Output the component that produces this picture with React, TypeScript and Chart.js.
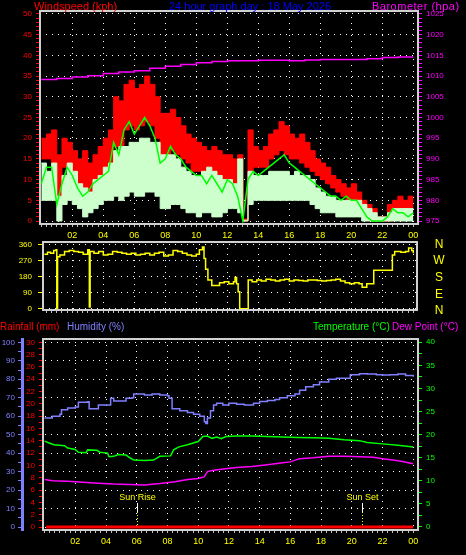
import React, { useEffect, useRef } from "react";
import { Chart, registerables } from "chart.js";

Chart.register(...registerables);

const FONT = "'Liberation Sans', Arial, Helvetica, sans-serif";

// ---------- text ----------
const windTitle = "Windspeed (kph)";
const mainTitle = "24 hour graph day : 18 May 2026";
const baroTitle = "Barometer (hpa)";
const rainTitle = "Rainfall (mm)";
const humTitle = "Humidity (%)";
const tempTitle = "Temperature (°C)";
const dewTitle = "Dew Point (°C)";
const hourLabels = ["02", "04", "06", "08", "10", "12", "14", "16", "18", "20", "22", "00"];
const compassDegrees = [360, 270, 180, 90, 0];
const compassLetters = ["N", "W", "S", "E", "N"];
const sunLabels = ["Sun Rise", "Sun Set"];
const sunHours = [6.04, 20.64];

// ---------- wind (samples every 20 minutes from 00:00) ----------
const windStepMinutes = 20;
const gustHigh = [20, 21, 22, 16, 20, 19, 17, 15, 17, 14, 16, 18, 20, 22, 30, 29, 33, 34, 32, 33, 35, 33, 30, 26, 26, 27, 25, 23, 21, 20, 19, 18, 17, 18, 17, 16, 16, 15, 16, 0.5, 22, 18, 17, 18, 21, 22, 24, 23, 21, 20, 21, 19, 17, 15, 14, 13, 11, 10, 9, 8, 9, 7, 5, 4, 3, 1, 1, 4, 5, 6, 5, 6, 6];
const gustLow = [15, 15, 14, 5, 13, 13, 11, 8, 6, 5, 8, 9, 12, 14, 18, 18, 22, 23, 22, 23, 24, 23, 20, 14, 14, 17, 16, 15, 14, 12, 12, 11, 10, 10, 9, 9, 10, 9, 10, 0, 12, 13, 13, 13, 15, 16, 17, 16, 15, 15, 14, 13, 12, 11, 10, 9, 8, 7, 6, 5, 5, 4, 3, 2, 0, 0, 0, 0, 2, 3, 2, 3, 3];
const windHigh = [14, 12, 14, 6, 11, 14, 12, 9, 8, 7, 10, 11, 13, 14, 17, 18, 18, 19, 19, 20, 20, 19, 19, 16, 16, 16, 15, 13, 12, 11, 11, 12, 13, 12, 11, 10, 10, 9, 15, 0.2, 12, 11, 11, 11, 12, 12, 12, 12, 11, 12, 11, 11, 10, 8, 7, 6, 6, 5, 5, 5, 5, 5, 4, 3, 2, 1, 1, 2, 3, 3, 3, 3, 3];
const windLow = [5, 5, 5, 0, 4, 5, 4, 3, 1, 2, 3, 4, 5, 5, 6, 5, 6, 7, 6, 6, 7, 7, 6, 3, 3, 4, 4, 3, 2, 2, 1, 2, 2, 1, 1, 2, 3, 3, 2, 0, 4, 5, 5, 5, 5, 5, 5, 5, 5, 5, 5, 5, 4, 3, 2, 2, 2, 1, 1, 1, 1, 1, 0, 0, 0, 0, 0, 0, 0, 0, 0, 0, 0];
const windAvg = [9, 13, 13, 4, 9, 13, 11, 8, 6, 7, 9, 10, 11, 12, 19, 16, 22, 24, 21, 23, 25, 23, 20, 14, 15, 18, 16, 15, 13, 12, 11, 11, 9, 11, 9, 7, 10, 9, 6, 0, 10, 12, 11, 12, 13, 14, 15, 16, 14, 13, 12, 11, 10, 9, 8, 7, 6, 6, 5, 6, 5, 5, 3, 1, 0, 0, 0, 1, 3, 2, 2, 1, 2];

// ---------- barometer ----------
const baroHours = [0, 1, 2, 3, 4, 5, 6, 7, 8, 9, 10, 11, 12, 13, 14, 15, 16, 17, 18, 19, 20, 21, 22, 23, 24];
const baroValues = [1009.2, 1009.4, 1009.8, 1010.1, 1010.6, 1011.0, 1011.3, 1011.9, 1012.4, 1012.8, 1013.2, 1013.5, 1013.7, 1013.7, 1013.8, 1013.8, 1013.7, 1013.9, 1014.0, 1014.0, 1014.0, 1014.2, 1014.5, 1014.6, 1014.6];

// ---------- wind direction ----------
const dirHours = [0.2, 0.4, 0.6, 0.8, 0.95, 1.0, 1.05, 1.2, 1.5, 1.8, 2.1, 2.4, 2.7, 3.0, 3.1, 3.15, 3.4, 3.7, 4.0, 4.3, 4.6, 4.9, 5.2, 5.5, 5.8, 6.1, 6.4, 6.7, 7.0, 7.3, 7.6, 7.9, 8.2, 8.5, 8.8, 9.1, 9.4, 9.7, 10.0, 10.2, 10.4, 10.5, 10.6, 10.75, 11.0, 11.3, 11.5, 11.8, 12.1, 12.4, 12.5, 12.6, 12.7, 12.8, 13.3, 13.35, 13.6, 13.9, 14.2, 14.5, 14.8, 15.1, 15.4, 15.7, 16.0, 16.3, 16.6, 16.9, 17.2, 17.5, 17.8, 18.1, 18.4, 18.7, 19.0, 19.3, 19.6, 19.9, 20.2, 20.5, 20.7, 20.9, 21.0, 21.4, 21.45, 22.6, 22.65, 22.8, 23.2, 23.5, 23.7, 23.9, 24.0];
const dirDegrees = [305, 315, 310, 325, 330, 0, 290, 300, 320, 325, 320, 315, 305, 330, 10, 320, 310, 320, 300, 305, 320, 315, 310, 305, 310, 300, 305, 310, 300, 310, 315, 295, 300, 325, 320, 310, 300, 295, 305, 330, 345, 280, 220, 160, 130, 130, 145, 150, 140, 150, 175, 140, 95, 0, 0, 160, 150, 160, 155, 165, 160, 155, 160, 165, 155, 160, 158, 155, 160, 160, 158, 155, 158, 160, 165, 155, 145, 140, 145, 140, 120, 120, 140, 140, 215, 215, 300, 320, 315, 320, 340, 325, 310];

// ---------- humidity / temperature / dew point / rain ----------
const humHours = [0, 0.5, 1.0, 1.1, 1.5, 2.0, 2.2, 2.8, 2.9, 3.4, 3.5, 4.2, 4.3, 4.5, 5.1, 5.3, 5.7, 5.8, 6.5, 7.0, 7.5, 8.0, 8.1, 8.3, 8.8, 9.3, 9.7, 10.1, 10.4, 10.5, 10.6, 10.8, 11.0, 11.2, 11.6, 12.0, 12.5, 13.0, 13.6, 14.0, 14.5, 15.0, 15.3, 15.8, 16.3, 16.6, 17.0, 17.5, 17.9, 18.5, 19.0, 19.5, 19.9, 20.5, 21.0, 21.6, 22.0, 22.5, 23.0, 23.5, 24.0];
const humValues = [59, 60, 61, 63.5, 64.5, 65, 67.5, 67.8, 64, 64, 66, 66, 69.7, 68.2, 68.2, 69.7, 70, 72, 71.5, 72, 71.5, 71, 69.7, 64, 63, 62, 61, 60, 57, 56, 59, 63, 66, 67, 66, 67, 66.5, 66, 67, 68, 68.5, 69, 70, 71, 72, 74, 76, 77, 78.5, 80, 80.5, 80.5, 82.5, 83, 82.8, 82.5, 82.3, 82.5, 82.8, 82, 81.4];
const tempHours = [0, 0.3, 0.6, 1.3, 1.5, 2.0, 2.2, 2.7, 2.8, 3.4, 3.6, 4.1, 4.2, 4.5, 4.8, 5.3, 5.5, 5.8, 6.5, 7.1, 7.5, 8.2, 8.4, 8.7, 9.3, 10.0, 10.3, 10.6, 10.9, 11.2, 11.5, 11.8, 12.5, 13.5, 14.5, 15.5, 16.5, 17.5, 18.5, 19.5, 20.5, 21.0, 22.0, 23.0, 24.0];
const tempValues = [18.6, 18.2, 17.8, 17.6, 17.1, 16.8, 16.2, 16.1, 16.7, 16.6, 16.2, 16.0, 15.2, 15.3, 15.7, 15.6, 15.1, 14.5, 14.4, 14.5, 15.3, 15.4, 16.7, 17.3, 17.8, 18.5, 19.6, 19.7, 19.2, 19.5, 19.1, 19.6, 19.7, 19.7, 19.6, 19.5, 19.4, 19.3, 19.2, 18.9, 18.7, 18.3, 18.0, 17.7, 17.3];
const dewHours = [0, 0.5, 1.5, 2.5, 3.5, 4.5, 5.5, 6.5, 7.5, 8.5, 9.3, 10.0, 10.4, 10.6, 11.0, 11.5, 12.5, 13.5, 14.5, 15.5, 16.0, 16.6, 17.5, 18.5, 19.5, 20.5, 21.4, 22.0, 22.7, 23.3, 24.0];
const dewValues = [10.3, 10.0, 9.9, 9.7, 9.5, 9.3, 9.2, 9.1, 9.4, 9.8, 10.3, 10.5, 10.9, 12.0, 12.3, 12.5, 12.9, 13.1, 13.5, 13.9, 14.1, 14.8, 15.0, 15.3, 15.3, 15.2, 15.1, 14.8, 14.5, 14.2, 13.7];
const rainHours = [0.1, 24];
const rainValues = [0, 0];

// ---------- colours ----------
const RED = "#ff0000";
const LIGHTGREEN = "#ccffcc";
const GREEN = "#00ff00";
const MAGENTA = "#ff00ff";
const YELLOW = "#ffff00";
const HUMBLUE = "#8080ff";
const FRAME = "#d0d0d0";
const CLEAR = "rgba(0,0,0,0)";

function pts(xs: number[], ys: number[]) {
  return xs.map((x, i) => ({ x, y: ys[i] }));
}
function windPts(ys: number[]) {
  return ys.map((y, i) => ({ x: (i * windStepMinutes) / 60, y }));
}
function range(a: number, b: number, step: number) {
  const out: { value: number }[] = [];
  for (let v = a; v <= b + 1e-9; v += step) out.push({ value: Math.round(v * 1000) / 1000 });
  return out;
}

function timeAxis(min: number, max: number, height: number, showLabels: boolean) {
  return {
    type: "linear",
    min,
    max,
    afterBuildTicks: (s: any) => {
      const t: { value: number }[] = [];
      for (let k = 0; k <= 73; k++) {
        const v = k / 3;
        if (v >= min && v <= max) t.push({ value: v });
      }
      s.ticks = t;
    },
    afterFit: (s: any) => {
      s.height = height;
    },
    ticks: {
      display: showLabels,
      autoSkip: false,
      maxRotation: 0,
      color: YELLOW,
      padding: 3,
      font: { family: FONT, size: 9 },
      callback: (v: number) => {
        const k = Math.round(v * 3);
        return k % 6 === 0 && k > 0 && k <= 72 ? hourLabels[k / 6 - 1] : "";
      },
    },
    grid: {
      color: (c: any) => {
        const v = c.tick ? c.tick.value : -1;
        const k = Math.round(v * 3);
        return k % 6 === 0 && k > 0 ? "#ffffff" : CLEAR;
      },
      tickColor: "#c0c0c0",
      tickLength: 3,
      lineWidth: 1,
    },
    border: { display: false, dash: [1, 5] },
  };
}

function valueAxis(o: {
  position: string;
  min: number;
  max: number;
  from: number;
  to: number;
  step: number;
  labelEvery: number;
  gridEvery: number | null;
  color: string;
  width: number;
  tickLength: number;
  padding: number;
  fontSize?: number;
  weight?: number;
  border?: any;
}) {
  const isMult = (v: number, m: number) => Math.abs(v / m - Math.round(v / m)) < 1e-6;
  return {
    type: "linear",
    position: o.position,
    min: o.min,
    max: o.max,
    weight: o.weight || 0,
    afterBuildTicks: (s: any) => {
      s.ticks = range(o.from, o.to, o.step);
    },
    afterFit: (s: any) => {
      s.width = o.width;
    },
    ticks: {
      autoSkip: false,
      color: o.color,
      padding: o.padding,
      font: { family: FONT, size: o.fontSize || 8 },
      callback: (v: number) => (isMult(v, o.labelEvery) ? String(v) : ""),
    },
    grid: {
      drawOnChartArea: o.gridEvery !== null,
      drawTicks: o.tickLength > 0,
      color: (c: any) =>
        o.gridEvery !== null && c.tick && isMult(c.tick.value, o.gridEvery as number) ? "#ffffff" : CLEAR,
      tickColor: o.color,
      tickLength: o.tickLength,
      lineWidth: 1,
    },
    border: o.border || { display: false, dash: [1, 5] },
  };
}

const framePlugin = {
  id: "frame",
  afterDraw(chart: any) {
    const { ctx, chartArea } = chart;
    const { left, top, right, bottom } = chartArea;
    ctx.save();
    ctx.strokeStyle = FRAME;
    ctx.lineWidth = 2;
    ctx.strokeRect(left, top, right - left, bottom - top);
    ctx.restore();
  },
};

const compassPlugin = {
  id: "compass",
  afterDraw(chart: any) {
    const { ctx, chartArea } = chart;
    const y = chart.scales.y;
    ctx.save();
    ctx.fillStyle = YELLOW;
    ctx.font = `12px ${FONT}`;
    ctx.textAlign = "center";
    ctx.textBaseline = "middle";
    compassDegrees.forEach((d, i) => {
      ctx.fillText(compassLetters[i], chartArea.right + 22, y.getPixelForValue(d) + i * 0.6);
    });
    ctx.restore();
  },
};

const sunPlugin = {
  id: "sun",
  afterDatasetsDraw(chart: any) {
    const { ctx } = chart;
    const x = chart.scales.x;
    const y = chart.scales.yt;
    const yBottom = y.getPixelForValue(0);
    sunHours.forEach((h, i) => {
      const px = Math.round(x.getPixelForValue(h)) + 0.5;
      ctx.save();
      ctx.fillStyle = YELLOW;
      ctx.font = `9px ${FONT}`;
      ctx.textAlign = "center";
      ctx.textBaseline = "middle";
      ctx.fillText(sunLabels[i], px, yBottom - 29);
      ctx.strokeStyle = "#ffffff";
      ctx.lineWidth = 1;
      ctx.beginPath();
      ctx.moveTo(px, yBottom - 24);
      ctx.lineTo(px, yBottom - 15);
      ctx.stroke();
      ctx.strokeStyle = YELLOW;
      ctx.setLineDash([1, 2]);
      ctx.beginPath();
      ctx.moveTo(px, yBottom - 15);
      ctx.lineTo(px, yBottom);
      ctx.stroke();
      ctx.restore();
    });
  },
};

const common = {
  responsive: false,
  animation: false,
  events: [],
  plugins: { legend: { display: false }, tooltip: { enabled: false }, title: { display: false } },
  elements: { point: { radius: 0 }, line: { tension: 0 } },
};

function windConfig(): any {
  return {
    type: "line",
    data: {
      datasets: [
        { data: windPts(windAvg), borderColor: GREEN, borderWidth: 1.5, fill: false, yAxisID: "y" },
        { data: windPts(windLow), borderColor: LIGHTGREEN, borderWidth: 1, stepped: true, fill: false, yAxisID: "y" },
        { data: windPts(windHigh), borderColor: LIGHTGREEN, backgroundColor: LIGHTGREEN, borderWidth: 1, stepped: true, fill: 1, yAxisID: "y" },
        { data: windPts(gustLow), borderColor: RED, borderWidth: 1, stepped: true, fill: false, yAxisID: "y" },
        { data: windPts(gustHigh), borderColor: RED, backgroundColor: RED, borderWidth: 1, stepped: true, fill: 3, yAxisID: "y" },
        { data: pts(baroHours, baroValues), borderColor: MAGENTA, borderWidth: 1.5, stepped: true, fill: false, yAxisID: "y1" },
      ],
    },
    options: {
      ...common,
      layout: { padding: { top: 11, left: 0, right: 0, bottom: 0 } },
      scales: {
        x: timeAxis(-0.084, 24.3, 16, true),
        y: valueAxis({ position: "left", min: -0.72, max: 50.72, from: 0, to: 50, step: 1, labelEvery: 5, gridEvery: 5, color: RED, width: 40, tickLength: 4, padding: 4 }),
        y1: valueAxis({ position: "right", min: 974.28, max: 1025.72, from: 975, to: 1025, step: 1, labelEvery: 5, gridEvery: null, color: MAGENTA, width: 48, tickLength: 4, padding: 4 }),
      },
    },
    plugins: [framePlugin],
  };
}

function dirConfig(): any {
  return {
    type: "line",
    data: {
      datasets: [
        { data: pts(dirHours, dirDegrees), borderColor: YELLOW, borderWidth: 1.5, stepped: true, fill: false, yAxisID: "y" },
      ],
    },
    options: {
      ...common,
      layout: { padding: { top: 16, left: 0, right: 49, bottom: 0 } },
      scales: {
        x: timeAxis(0.11, 24.24, 16, false),
        y: valueAxis({ position: "left", min: -7.3, max: 372.9, from: 0, to: 360, step: 90, labelEvery: 90, gridEvery: 90, color: YELLOW, width: 43, tickLength: 5, padding: 6 }),
      },
    },
    plugins: [framePlugin, compassPlugin],
  };
}

function climateConfig(): any {
  return {
    type: "line",
    data: {
      datasets: [
        { data: pts(rainHours, rainValues), borderColor: RED, borderWidth: 3, fill: false, yAxisID: "yr" },
        { data: pts(humHours, humValues), borderColor: HUMBLUE, borderWidth: 1.5, stepped: true, fill: false, yAxisID: "yh" },
        { data: pts(tempHours, tempValues), borderColor: GREEN, borderWidth: 1.5, fill: false, yAxisID: "yt" },
        { data: pts(dewHours, dewValues), borderColor: MAGENTA, borderWidth: 1.5, fill: false, yAxisID: "yt" },
      ],
    },
    options: {
      ...common,
      layout: { padding: { top: 21, left: 0, right: 0, bottom: 0 } },
      scales: {
        x: timeAxis(-0.104, 24.31, 25, true),
        yh: valueAxis({
          position: "left", min: -1.62, max: 101.79, from: 0, to: 100, step: 5, labelEvery: 10, gridEvery: 10,
          color: HUMBLUE, width: 22, tickLength: 4, padding: 3, weight: 1,
          border: { display: true, color: HUMBLUE, width: 3, dash: [1, 5] },
        }),
        yr: valueAxis({ position: "left", min: -0.487, max: 30.54, from: 0, to: 30, step: 1, labelEvery: 2, gridEvery: null, color: RED, width: 21, tickLength: 4, padding: 4, weight: 0 }),
        yt: valueAxis({ position: "right", min: -0.65, max: 40.71, from: 0, to: 40, step: 2.5, labelEvery: 5, gridEvery: null, color: GREEN, width: 48, tickLength: 4, padding: 4 }),
      },
    },
    plugins: [framePlugin, sunPlugin],
  };
}

function label(text: string, left: number, top: number, color: string, extra: any = {}) {
  return (
    <div
      style={{
        position: "absolute",
        left,
        top,
        color,
        fontFamily: FONT,
        fontSize: 11,
        lineHeight: "12px",
        whiteSpace: "nowrap",
        ...extra,
      }}
    >
      {text}
    </div>
  );
}

export default function App() {
  const c1 = useRef<HTMLCanvasElement>(null);
  const c2 = useRef<HTMLCanvasElement>(null);
  const c3 = useRef<HTMLCanvasElement>(null);

  useEffect(() => {
    const charts = [
      new Chart(c1.current as HTMLCanvasElement, windConfig()),
      new Chart(c2.current as HTMLCanvasElement, dirConfig()),
      new Chart(c3.current as HTMLCanvasElement, climateConfig()),
    ];
    return () => charts.forEach((c) => c.destroy());
  }, []);

  return (
    <div style={{ position: "fixed", left: 0, top: 0, width: 466, height: 555, background: "#000", overflow: "hidden" }}>
      <canvas ref={c1} width={466} height={240} style={{ position: "absolute", left: 0, top: 0, width: 466, height: 240 }} />
      <canvas ref={c2} width={466} height={100} style={{ position: "absolute", left: 0, top: 226, width: 466, height: 100 }} />
      <canvas ref={c3} width={466} height={237} style={{ position: "absolute", left: 0, top: 318, width: 466, height: 237 }} />
      {label(windTitle, 34, 0, RED)}
      {label(mainTitle, 250, 0, "#0000ff", { transform: "translateX(-50%)" })}
      {label(baroTitle, 372, 0, MAGENTA, { letterSpacing: "0.5px" })}
      {label(rainTitle, 0, 321, RED, { fontSize: 10 })}
      {label(humTitle, 67, 321, HUMBLUE, { fontSize: 10 })}
      {label(tempTitle, 313, 321, GREEN, { fontSize: 10 })}
      {label(dewTitle, 392, 321, MAGENTA, { fontSize: 10 })}
    </div>
  );
}
